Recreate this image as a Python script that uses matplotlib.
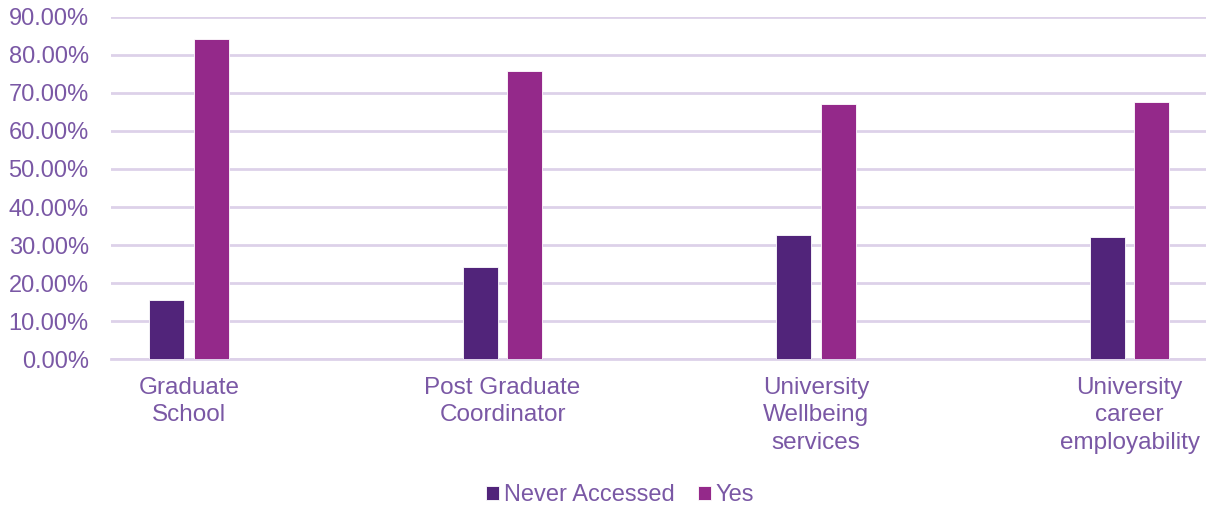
import matplotlib.pyplot as plt
import numpy as np
from matplotlib.ticker import FuncFormatter

plt.rcParams['font.family'] = ['Liberation Sans', 'DejaVu Sans']

# services et pourcentages par réponse
services = ["Graduate\nSchool", "Post Graduate\nCoordinator",
            "University\nWellbeing\nservices", "University\ncareer\nemployability"]
never_accessed = [15.6, 24.2, 32.6, 32.0]
yes = [84.1, 75.7, 67.1, 67.7]

c_never = '#51247A'
c_yes = '#94298A'
c_text = '#7A58A5'
c_grid = '#DDD1E9'

fig = plt.figure(figsize=(12.06, 5.08), dpi=100)
ax = fig.add_axes([0.092, 0.2927, 0.908, 0.6744])

x = np.arange(len(services))
w = 0.112
ax.bar(x - 0.071, never_accessed, w, color=c_never, label='Never Accessed', zorder=3,
       edgecolor='white', linewidth=0.6)
ax.bar(x + 0.071, yes, w, color=c_yes, label='Yes', zorder=3,
       edgecolor='white', linewidth=0.6)

ax.set_xlim(-0.249, 3.244)
ax.set_ylim(0, 90)
ax.set_yticks(np.arange(0, 91, 10))
ax.yaxis.set_major_formatter(FuncFormatter(lambda v, p: f"{v:.2f}%"))
ax.set_xticks(x)
ax.set_xticklabels(services, fontsize=17.5, color=c_text, linespacing=1.3)
ax.tick_params(axis='y', labelsize=17, labelcolor=c_text, length=0, pad=16)
ax.tick_params(axis='x', length=0, pad=13)
ax.grid(axis='y', color=c_grid, linewidth=2, zorder=0)
for s in ['top', 'right', 'left']:
    ax.spines[s].set_visible(False)
ax.spines['bottom'].set_color(c_grid)
ax.spines['bottom'].set_linewidth(2)

fig.legend(loc='center', bbox_to_anchor=(620 / 1206, 1 - 495 / 508), ncol=2,
           frameon=False, fontsize=17, labelcolor=c_text,
           handlelength=0.55, handleheight=0.55, handletextpad=0.2, columnspacing=1.0)

fig.savefig('out.png', dpi=100)
